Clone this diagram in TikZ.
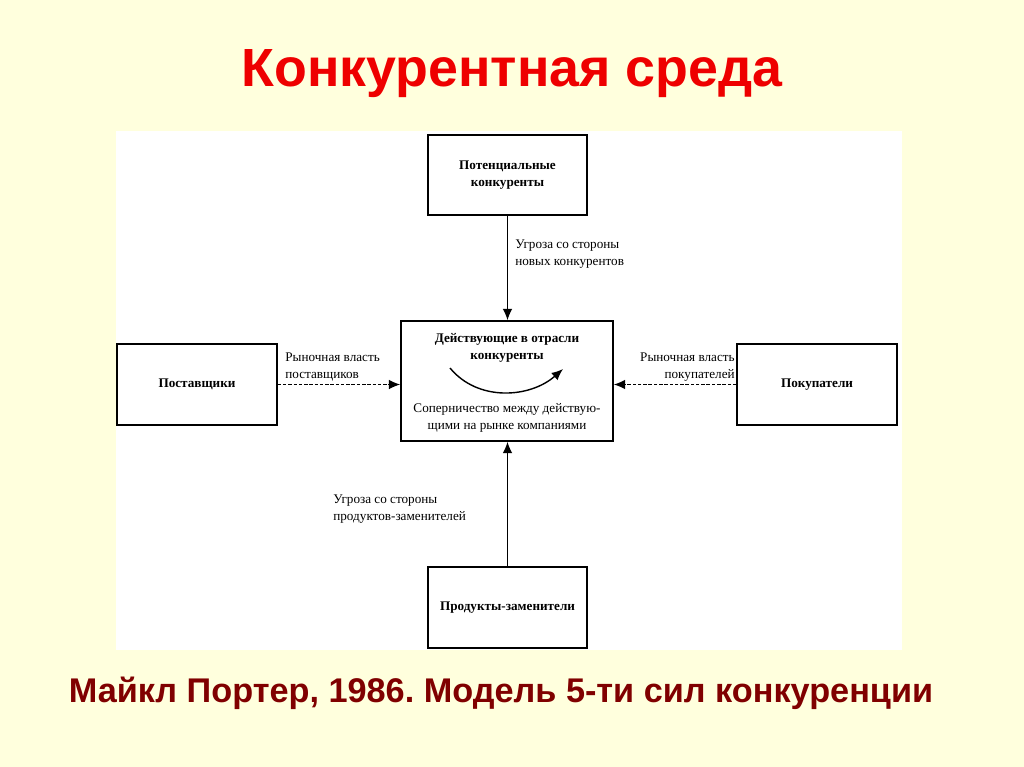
\documentclass[tikz,border=0pt]{standalone}
\usepackage{fontspec}
\setmainfont{Liberation Serif}
\newfontfamily\headfont{Liberation Sans}
\usetikzlibrary{arrows.meta}
\definecolor{slidebg}{HTML}{FFFFDD}
\definecolor{titlered}{HTML}{EE0000}
\definecolor{captionred}{HTML}{800000}
\frenchspacing
\begin{document}
\begin{tikzpicture}[x=0.02cm,y=-0.02cm,
    force/.style={draw,line width=0.8pt,inner sep=0pt,align=center,
        font=\fontsize{7.5}{9.7}\selectfont\bfseries},
    note/.style={inner sep=0pt,font=\fontsize{7.5}{9.7}\selectfont},
    flow/.style={line width=0.8pt,-{Latex[length=6.5pt,width=5.5pt]}}]
    \fill[slidebg] (0,0) rectangle (1024,767);
    \fill[white] (116,131) rectangle (902,650);
    \node[font=\headfont\fontsize{30.6}{36}\selectfont\bfseries,text=titlered] (title) at (512,74) {Конкурентная среда};
    \node[font=\headfont\fontsize{19.5}{23}\selectfont\bfseries,text=captionred] (caption) at (501,693) {Майкл Портер, 1986. Модель 5-ти сил конкуренции};
    % the five forces
    \node[force,minimum width=3.18cm,minimum height=1.6cm] (entrants) at (507.5,175) {Потенциальные\\конкуренты};
    \node[force,minimum width=4.24cm,minimum height=2.4cm] (rivals) at (507,381) {};
    \node[force,minimum width=3.2cm,minimum height=1.62cm] (suppliers) at (197,384.5) {Поставщики};
    \node[force,minimum width=3.2cm,minimum height=1.62cm] (buyers) at (817,384.5) {Покупатели};
    \node[force,minimum width=3.18cm,minimum height=1.62cm] (substitutes) at (507.5,607.5) {Продукты-заменители};
    % inside the centre box
    \node[note,font=\fontsize{7.5}{9.7}\selectfont\bfseries,align=center] (rivalshead) at (507,348) {Действующие в отрасли\\конкуренты};
    \node[note,align=center] (rivalry) at (507,418) {Соперничество между действую-\\щими на рынке компаниями};
    \coordinate (turnstart) at (450,368);
    \coordinate (turnend) at (563,369);
    \draw[flow] (turnstart) .. controls (478,402) and (530,398) .. (turnend);
    % connectors
    \draw[flow] (entrants.south) -- (entrants.south |- rivals.north);
    \draw[flow] (substitutes.north) -- (substitutes.north |- rivals.south);
    \draw[flow,dash pattern=on 2pt off 1pt] (suppliers.east) -- (suppliers.east -| rivals.west);
    \draw[flow,dash pattern=on 2pt off 1pt] (buyers.west) -- (buyers.west -| rivals.east);
    \node[note,anchor=west,align=left] (entrantslabel) at (515,254) {Угроза со стороны\\новых конкурентов};
    \node[note,anchor=west,align=left] (supplierslabel) at (285,367) {Рыночная власть\\поставщиков};
    \node[note,anchor=east,align=right] (buyerslabel) at (735,367) {Рыночная власть\\покупателей};
    \node[note,anchor=west,align=left] (substituteslabel) at (333,509) {Угроза со стороны\\продуктов-заменителей};
\end{tikzpicture}
\end{document}
